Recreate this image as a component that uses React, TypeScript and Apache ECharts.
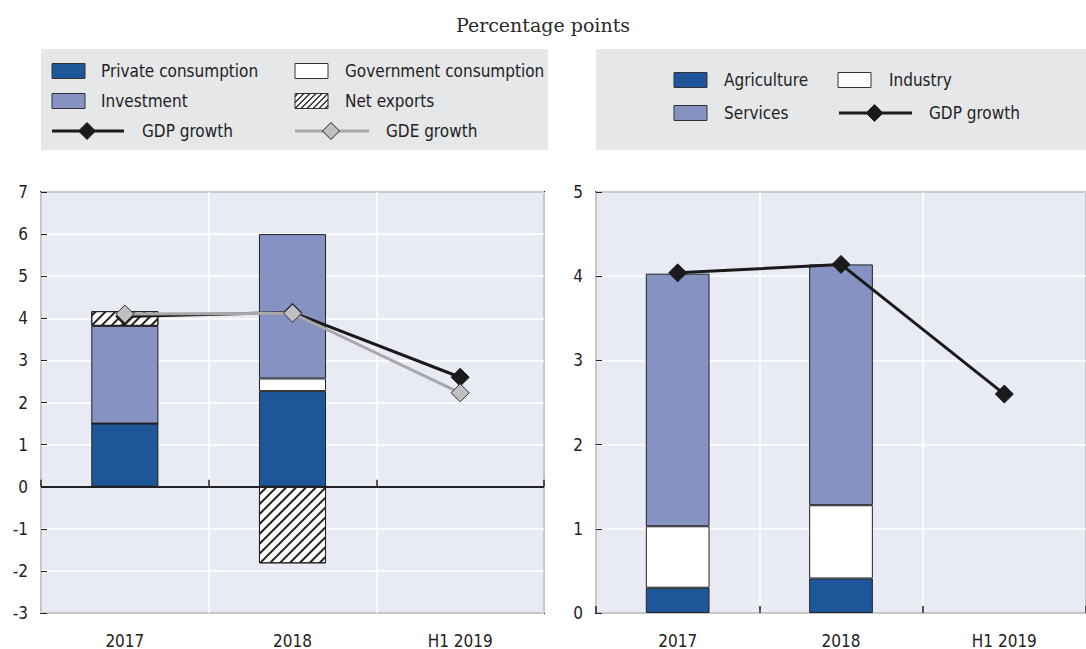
import React, { useEffect, useRef } from "react";
import * as echarts from "echarts";

const categories = ["2017", "2018", "H1 2019"];
const privateConsumption = [1.5, 2.27, null];
const governmentConsumption = [0, 0.3, null];
const investment = [2.32, 3.43, null];
const netExports = [0.35, -1.82, null];
const gdpGrowth = [4.04, 4.14, 2.6];
const gdeGrowth = [4.1, 4.12, 2.23];
const agriculture = [0.3, 0.41, null];
const industry = [0.73, 0.87, null];
const services = [3.0, 2.86, null];
const leftTicks = { min: -3, max: 7, interval: 1 };
const rightTicks = { min: 0, max: 5, interval: 1 };

const FONT = '"Liberation Sans Narrow", "Arial Narrow", "DejaVu Sans Condensed", sans-serif';
const DARK_BLUE = "#1d5799";
const LIGHT_BLUE = "#8592c2";
const PLOT_BG = "#e8eaf4";
const BORDER = "#222222";
const LEGEND_BG = "#e6e7e9";
const GRAY_LINE = "#a8a8a8";
const GRAY_FILL = "#c0c0c0";
const TEXT = "#222222";

const hatchDecal = {
  symbol: "rect",
  symbolSize: 1,
  color: "#222",
  dashArrayX: [1, 0],
  dashArrayY: [1.3, 4.5],
  rotation: -Math.PI / 4,
};

function rectIcon(x: number, cy: number, fill: string) {
  return {
    type: "rect",
    shape: { x: x, y: cy - 7.5, width: 33, height: 15 },
    style: { fill, stroke: "#333", lineWidth: 1 },
  };
}

function hatchIcon(x: number, cy: number) {
  const w = 33;
  const h = 15;
  const y = cy - h / 2;
  const els: any[] = [rectIcon(x, cy, "#fff")];
  for (let t = -h + 3; t < w; t += 6) {
    let sx = x + t, sy = y + h, ex = x + t + h, ey = y;
    if (sx < x) { const d = x - sx; sx = x; sy = y + h - d; }
    if (ex > x + w) { const d = ex - (x + w); ex = x + w; ey = y + d; }
    if (ex <= sx) continue;
    els.push({
      type: "line",
      shape: { x1: sx, y1: sy, x2: ex, y2: ey },
      style: { stroke: "#222", lineWidth: 1.3 },
    });
  }
  return els;
}

function lineIcon(x1: number, x2: number, cy: number, color: string, fill: string) {
  const cx = (x1 + x2) / 2 - 1;
  const r = 8.5;
  return [
    {
      type: "line",
      shape: { x1, y1: cy, x2, y2: cy },
      style: { stroke: color, lineWidth: 3 },
    },
    {
      type: "polygon",
      shape: { points: [[cx, cy - r], [cx + r, cy], [cx, cy + r], [cx - r, cy]] },
      style: { fill, stroke: "#222", lineWidth: 1 },
    },
  ];
}

function legendText(x: number, cy: number, text: string) {
  return {
    type: "text",
    x,
    y: cy,
    style: {
      text,
      fill: TEXT,
      font: `17px ${FONT}`,
      verticalAlign: "middle",
      align: "left",
    },
  };
}

export default function App() {
  const ref = useRef<HTMLDivElement>(null);
  useEffect(() => {
    if (!ref.current) return;
    const chart = echarts.init(ref.current, null, { renderer: "svg" });

    const axisLabel = { color: TEXT, fontFamily: FONT, fontSize: 17 };

    const makeX = (gridIndex: number) => ({
      type: "category",
      gridIndex,
      data: categories,
      boundaryGap: true,
      axisLine: { show: false },
      axisTick: { show: true, inside: true, length: 7, lineStyle: { color: BORDER, width: 1.5 } },
      splitLine: { show: true, lineStyle: { color: "#ffffff", width: 1.5 } },
      axisLabel: { ...axisLabel, margin: 19 },
    });
    const makeY = (gridIndex: number, t: { min: number; max: number; interval: number }) => ({
      type: "value",
      gridIndex,
      min: t.min,
      max: t.max,
      interval: t.interval,
      axisLine: { show: false },
      axisTick: { show: true, inside: true, length: 6, lineStyle: { color: BORDER } },
      splitLine: { show: true, lineStyle: { color: "#ffffff", width: 1.5 } },
      axisLabel: { ...axisLabel, margin: 13 },
    });

    const barStyle = (color: string) => ({ color, borderColor: BORDER, borderWidth: 1 });

    const option: any = {
      animation: false,
      title: {
        text: "Percentage points",
        left: "center",
        top: 10,
        textStyle: { fontFamily: '"DejaVu Serif", serif', fontSize: 19, fontWeight: "normal", color: "#2a2a2a" },
      },
      grid: [
        { left: 41, top: 192, width: 503, height: 422, show: true, backgroundColor: PLOT_BG, borderColor: BORDER, borderWidth: 2 },
        { left: 596, top: 192, width: 498, height: 422, show: true, backgroundColor: PLOT_BG, borderColor: BORDER, borderWidth: 2 },
      ],
      xAxis: [makeX(0), makeX(1)],
      yAxis: [makeY(0, leftTicks), makeY(1, rightTicks)],
      series: [
        {
          name: "Private consumption", type: "bar", stack: "L", xAxisIndex: 0, yAxisIndex: 0,
          barWidth: "40%", data: privateConsumption, itemStyle: barStyle(DARK_BLUE),
          markLine: {
            silent: true, symbol: "none", label: { show: false },
            lineStyle: { color: BORDER, width: 2, type: "solid" },
            data: [{ yAxis: 0 }],
          },
        },
        {
          name: "Government consumption", type: "bar", stack: "L", xAxisIndex: 0, yAxisIndex: 0,
          barWidth: "40%", data: governmentConsumption, itemStyle: barStyle("#ffffff"),
        },
        {
          name: "Investment", type: "bar", stack: "L", xAxisIndex: 0, yAxisIndex: 0,
          barWidth: "40%", data: investment, itemStyle: barStyle(LIGHT_BLUE),
        },
        {
          name: "Net exports", type: "bar", stack: "L", xAxisIndex: 0, yAxisIndex: 0,
          barWidth: "40%", data: netExports,
          itemStyle: { ...barStyle("#ffffff"), decal: hatchDecal },
        },
        {
          name: "GDP growth", type: "line", xAxisIndex: 0, yAxisIndex: 0, data: gdpGrowth,
          symbol: "diamond", symbolSize: 18, z: 5,
          lineStyle: { color: "#1a1a1a", width: 3 },
          itemStyle: { color: "#1a1a1a", borderColor: "#1a1a1a", borderWidth: 1 },
        },
        {
          name: "GDE growth", type: "line", xAxisIndex: 0, yAxisIndex: 0, data: gdeGrowth,
          symbol: "diamond", symbolSize: 18, z: 6,
          lineStyle: { color: GRAY_LINE, width: 3 },
          itemStyle: { color: GRAY_FILL, borderColor: "#333", borderWidth: 1 },
        },
        {
          name: "Agriculture", type: "bar", stack: "R", xAxisIndex: 1, yAxisIndex: 1,
          barWidth: "39%", data: agriculture, itemStyle: barStyle(DARK_BLUE),
        },
        {
          name: "Industry", type: "bar", stack: "R", xAxisIndex: 1, yAxisIndex: 1,
          barWidth: "39%", data: industry, itemStyle: barStyle("#ffffff"),
        },
        {
          name: "Services", type: "bar", stack: "R", xAxisIndex: 1, yAxisIndex: 1,
          barWidth: "39%", data: services, itemStyle: barStyle(LIGHT_BLUE),
        },
        {
          name: "GDP growth", type: "line", xAxisIndex: 1, yAxisIndex: 1, data: gdpGrowth,
          symbol: "diamond", symbolSize: 18, z: 5,
          lineStyle: { color: "#1a1a1a", width: 3 },
          itemStyle: { color: "#1a1a1a", borderColor: "#1a1a1a", borderWidth: 1 },
        },
      ],
      graphic: [
        { type: "rect", shape: { x: 41, y: 49, width: 507, height: 101 }, style: { fill: LEGEND_BG }, z: -1 },
        { type: "rect", shape: { x: 596, y: 49, width: 490, height: 101 }, style: { fill: LEGEND_BG }, z: -1 },
        rectIcon(52, 71, DARK_BLUE),
        legendText(101, 71, "Private consumption"),
        rectIcon(295, 71, "#ffffff"),
        legendText(345, 71, "Government consumption"),
        rectIcon(52, 101, LIGHT_BLUE),
        legendText(101, 101, "Investment"),
        ...hatchIcon(295, 101),
        legendText(345, 101, "Net exports"),
        ...lineIcon(52, 124, 131, "#1a1a1a", "#1a1a1a"),
        legendText(142, 131, "GDP growth"),
        ...lineIcon(295, 369, 131, GRAY_LINE, GRAY_FILL),
        legendText(386, 131, "GDE growth"),
        rectIcon(674, 80, DARK_BLUE),
        legendText(724, 80, "Agriculture"),
        rectIcon(838, 80, "#ffffff"),
        legendText(889, 80, "Industry"),
        rectIcon(674, 113, LIGHT_BLUE),
        legendText(724, 113, "Services"),
        ...lineIcon(839, 912, 113, "#1a1a1a", "#1a1a1a"),
        legendText(929, 113, "GDP growth"),
      ],
    };
    chart.setOption(option);
    return () => chart.dispose();
  }, []);

  return (
    <div
      ref={ref}
      style={{ position: "fixed", left: 0, top: 0, width: 1086, height: 649, background: "#ffffff" }}
    />
  );
}
